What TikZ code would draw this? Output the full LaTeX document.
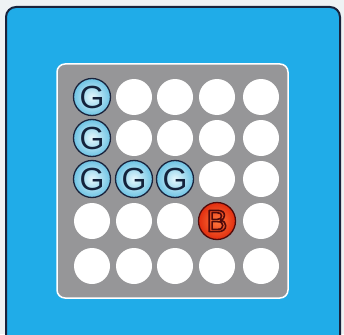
\documentclass[tikz,border=0pt]{standalone}
\usepackage{fontspec}
\setmainfont{Liberation Sans}
\newcommand{\outlinetext}[1]{\special{pdf:code q 1 Tr 1.6 w 1 j}#1\special{pdf:code Q}}
\begin{document}
\begin{tikzpicture}[x=1pt,y=-1pt,
  hole/.style={circle,fill=white,minimum size=36pt,inner sep=0pt},
  gball/.style={circle,draw=navy,line width=1.3pt,inner color=gin,outer color=gout,minimum size=37pt,inner sep=0pt,font=\fontsize{32}{32}\selectfont,text=gtxt},
  bball/.style={circle,draw=bdark,line width=1.3pt,inner color=bin,outer color=bout,minimum size=37pt,inner sep=0pt,font=\fontsize{31}{31}\selectfont,text=bdark}]
\definecolor{bgc}{RGB}{238,242,244}
\definecolor{skyb}{RGB}{32,172,232}
\definecolor{navy}{RGB}{25,35,60}
\definecolor{panelg}{RGB}{150,150,152}
\definecolor{gin}{RGB}{230,248,253}
\definecolor{gout}{RGB}{110,195,228}
\definecolor{gtxt}{RGB}{20,35,60}
\definecolor{bin}{RGB}{255,120,60}
\definecolor{bout}{RGB}{225,45,15}
\definecolor{bdark}{RGB}{80,10,10}
\useasboundingbox (0,0) rectangle (344,334);
\fill[bgc] (0,0) rectangle (344,334);
\draw[navy,line width=2pt,fill=skyb,rounded corners=10pt] (6,7) rectangle (340,350);
\draw[white,line width=1.5pt,fill=panelg,rounded corners=8pt] (57,64) rectangle (288,298);
\foreach \c/\x in {1/92,2/134,3/175,4/217,5/261}{
  \foreach \r/\y in {1/97,2/138,3/179,4/221,5/266}{
    \node[hole] (h\r\c) at (\x,\y) {};
  }
}
\node[gball] (g1) at (h11) {G};
\node[gball] (g2) at (h21) {G};
\node[gball] (g3) at (h31) {G};
\node[gball] (g4) at (h32) {G};
\node[gball] (g5) at (h33) {G};
\node[bball] (b1) at (h44) {\outlinetext{B}};
\end{tikzpicture}
\end{document}
